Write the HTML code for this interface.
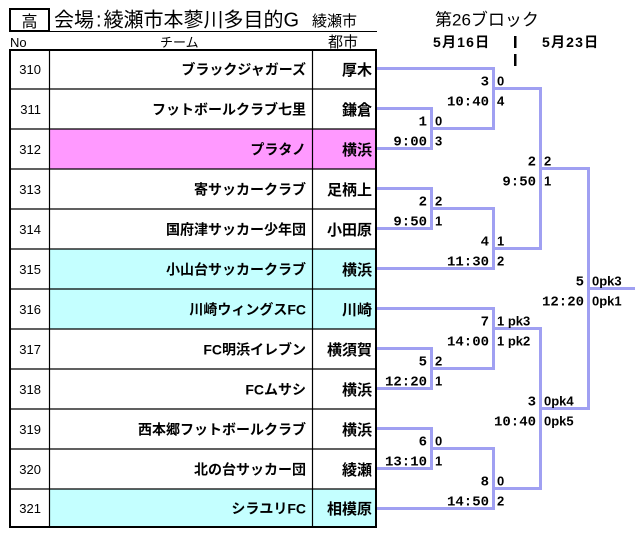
<!DOCTYPE html>
<html><head><meta charset="utf-8">
<style>
html,body{margin:0;padding:0;background:#fff;}
svg{display:block;}
.jp{font-family:"Liberation Sans","Noto Sans CJK JP",sans-serif;}
.mono{font-family:"Liberation Mono",monospace;font-weight:bold;font-size:14px;}
.sc{font-family:"Liberation Sans",sans-serif;font-weight:bold;font-size:13px;}
.num{font-family:"Liberation Sans",sans-serif;font-size:13px;}
.team{font-family:"Liberation Sans","Noto Sans CJK JP",sans-serif;font-weight:bold;font-size:14px;}
.city{font-family:"Liberation Sans","Noto Sans CJK JP",sans-serif;font-weight:bold;font-size:15px;}
</style></head>
<body>
<svg width="644" height="552" viewBox="0 0 644 552" xmlns="http://www.w3.org/2000/svg">
<!-- header -->
<rect x="10" y="9" width="39" height="22" fill="none" stroke="#000" stroke-width="2"/>
<text x="29.5" y="27" text-anchor="middle" class="jp" font-size="16">高</text>
<text x="54" y="26.5" class="jp" font-size="20">会場<tspan dx="2">:</tspan><tspan dx="2">綾瀬市本蓼川多目的G</tspan></text>
<text x="312" y="26" class="jp" font-size="15">綾瀬市</text>
<line x1="49" y1="31.5" x2="377" y2="31.5" stroke="#000" stroke-width="1"/>
<text x="10" y="47" class="jp" font-size="13">No</text>
<text x="160" y="47" class="jp" font-size="13">チーム</text>
<text x="328" y="47" class="jp" font-size="15">都市</text>

<text x="435" y="25.5" class="jp" font-size="17">第26ブロック</text>
<text x="433" y="47" class="jp" font-size="14" font-weight="bold" letter-spacing="1.2">5月16日</text>
<text x="542" y="47" class="jp" font-size="14" font-weight="bold" letter-spacing="1.2">5月23日</text>
<rect x="514" y="36" width="2.5" height="12" fill="#000"/>
<rect x="514" y="54" width="2.5" height="12" fill="#000"/>

<!-- row fills -->
<rect x="49" y="129" width="327" height="40" fill="#ff99ff"/>
<rect x="49" y="249" width="327" height="80" fill="#c4ffff"/>
<rect x="49" y="489" width="327" height="38" fill="#c4ffff"/>

<!-- grid -->
<g stroke="#000" stroke-width="1.2">
<line x1="10" y1="89" x2="376" y2="89"/>
<line x1="10" y1="129" x2="376" y2="129"/>
<line x1="10" y1="169" x2="376" y2="169"/>
<line x1="10" y1="209" x2="376" y2="209"/>
<line x1="10" y1="249" x2="376" y2="249"/>
<line x1="10" y1="289" x2="376" y2="289"/>
<line x1="10" y1="329" x2="376" y2="329"/>
<line x1="10" y1="369" x2="376" y2="369"/>
<line x1="10" y1="409" x2="376" y2="409"/>
<line x1="10" y1="449" x2="376" y2="449"/>
<line x1="10" y1="489" x2="376" y2="489"/>
<line x1="49.5" y1="50" x2="49.5" y2="527"/>
<line x1="312.5" y1="50" x2="312.5" y2="527"/>
</g>
<rect x="10" y="50" width="366" height="477" fill="none" stroke="#000" stroke-width="2"/>

<!-- numbers -->
<g class="num" text-anchor="end">
<text x="41" y="74">310</text>
<text x="41" y="114">311</text>
<text x="41" y="154">312</text>
<text x="41" y="194">313</text>
<text x="41" y="234">314</text>
<text x="41" y="274">315</text>
<text x="41" y="314">316</text>
<text x="41" y="354">317</text>
<text x="41" y="394">318</text>
<text x="41" y="434">319</text>
<text x="41" y="474">320</text>
<text x="41" y="513">321</text>
</g>
<g class="team" text-anchor="end">
<text x="306" y="74.5">ブラックジャガーズ</text>
<text x="306" y="114.5">フットボールクラブ七里</text>
<text x="306" y="154.5">プラタノ</text>
<text x="306" y="194.5">寄サッカークラブ</text>
<text x="306" y="234.5">国府津サッカー少年団</text>
<text x="306" y="274.5">小山台サッカークラブ</text>
<text x="306" y="314.5">川崎ウィングスFC</text>
<text x="306" y="354.5">FC明浜イレブン</text>
<text x="306" y="394.5">FCムサシ</text>
<text x="306" y="434.5">西本郷フットボールクラブ</text>
<text x="306" y="474.5">北の台サッカー団</text>
<text x="306" y="513.5">シラユリFC</text>
</g>
<g class="city" text-anchor="end">
<text x="372" y="75">厚木</text>
<text x="372" y="115">鎌倉</text>
<text x="372" y="155">横浜</text>
<text x="372" y="195">足柄上</text>
<text x="372" y="235">小田原</text>
<text x="372" y="275">横浜</text>
<text x="372" y="315">川崎</text>
<text x="372" y="355">横須賀</text>
<text x="372" y="395">横浜</text>
<text x="372" y="435">横浜</text>
<text x="372" y="475">綾瀬</text>
<text x="372" y="514">相模原</text>
</g>

<!-- bracket lines -->
<g fill="none" stroke="#a0a0f2" stroke-width="3" stroke-linejoin="miter" stroke-linecap="butt">
<path d="M377 68.5 H493.5 V128.5 H431.5"/>
<path d="M377 108.5 H431.5 V148.5 H377"/>
<path d="M493.5 88.5 H540.5 V248.5 H493.5"/>
<path d="M377 188.5 H431.5 V228.5 H377"/>
<path d="M431.5 208.5 H493.5 V268.5 H377"/>
<path d="M540.5 168.5 H588.5 V408.5 H540.5"/>
<path d="M588.5 288.5 H635"/>
<path d="M377 308.5 H493.5 V368.5 H431.5"/>
<path d="M377 348.5 H431.5 V388.5 H377"/>
<path d="M493.5 328.5 H540.5 V488.5 H493.5"/>
<path d="M377 428.5 H431.5 V468.5 H377"/>
<path d="M431.5 448.5 H493.5 V508.5 H377"/>
</g>

<!-- match labels: number/time (right-aligned) -->
<g class="mono" text-anchor="end">
<text x="427" y="125.5">1</text><text x="427" y="145.5">9:00</text>
<text x="489" y="85.5">3</text><text x="489" y="105.5">10:40</text>
<text x="427" y="205.5">2</text><text x="427" y="225.5">9:50</text>
<text x="489" y="245.5">4</text><text x="489" y="265.5">11:30</text>
<text x="536" y="165.5">2</text><text x="536" y="185.5">9:50</text>
<text x="427" y="365.5">5</text><text x="427" y="385.5">12:20</text>
<text x="489" y="325.5">7</text><text x="489" y="345.5">14:00</text>
<text x="427" y="445.5">6</text><text x="427" y="465.5">13:10</text>
<text x="489" y="485.5">8</text><text x="489" y="505.5">14:50</text>
<text x="536" y="405.5">3</text><text x="536" y="425.5">10:40</text>
<text x="584" y="285.5">5</text><text x="584" y="305.5">12:20</text>
</g>
<!-- scores -->
<g class="sc">
<text x="435" y="125.5">0</text><text x="435" y="145.5">3</text>
<text x="497" y="85.5">0</text><text x="497" y="105.5">4</text>
<text x="435" y="205.5">2</text><text x="435" y="225.5">1</text>
<text x="497" y="245.5">1</text><text x="497" y="265.5">2</text>
<text x="544" y="165.5">2</text><text x="544" y="185.5">1</text>
<text x="435" y="365.5">2</text><text x="435" y="385.5">1</text>
<text x="497" y="325.5">1 pk3</text><text x="497" y="345.5">1 pk2</text>
<text x="435" y="445.5">0</text><text x="435" y="465.5">1</text>
<text x="497" y="485.5">0</text><text x="497" y="505.5">2</text>
<text x="544" y="405.5">0pk4</text><text x="544" y="425.5">0pk5</text>
<text x="592" y="285.5">0pk3</text><text x="592" y="305.5">0pk1</text>
</g>
</svg>
</body></html>
